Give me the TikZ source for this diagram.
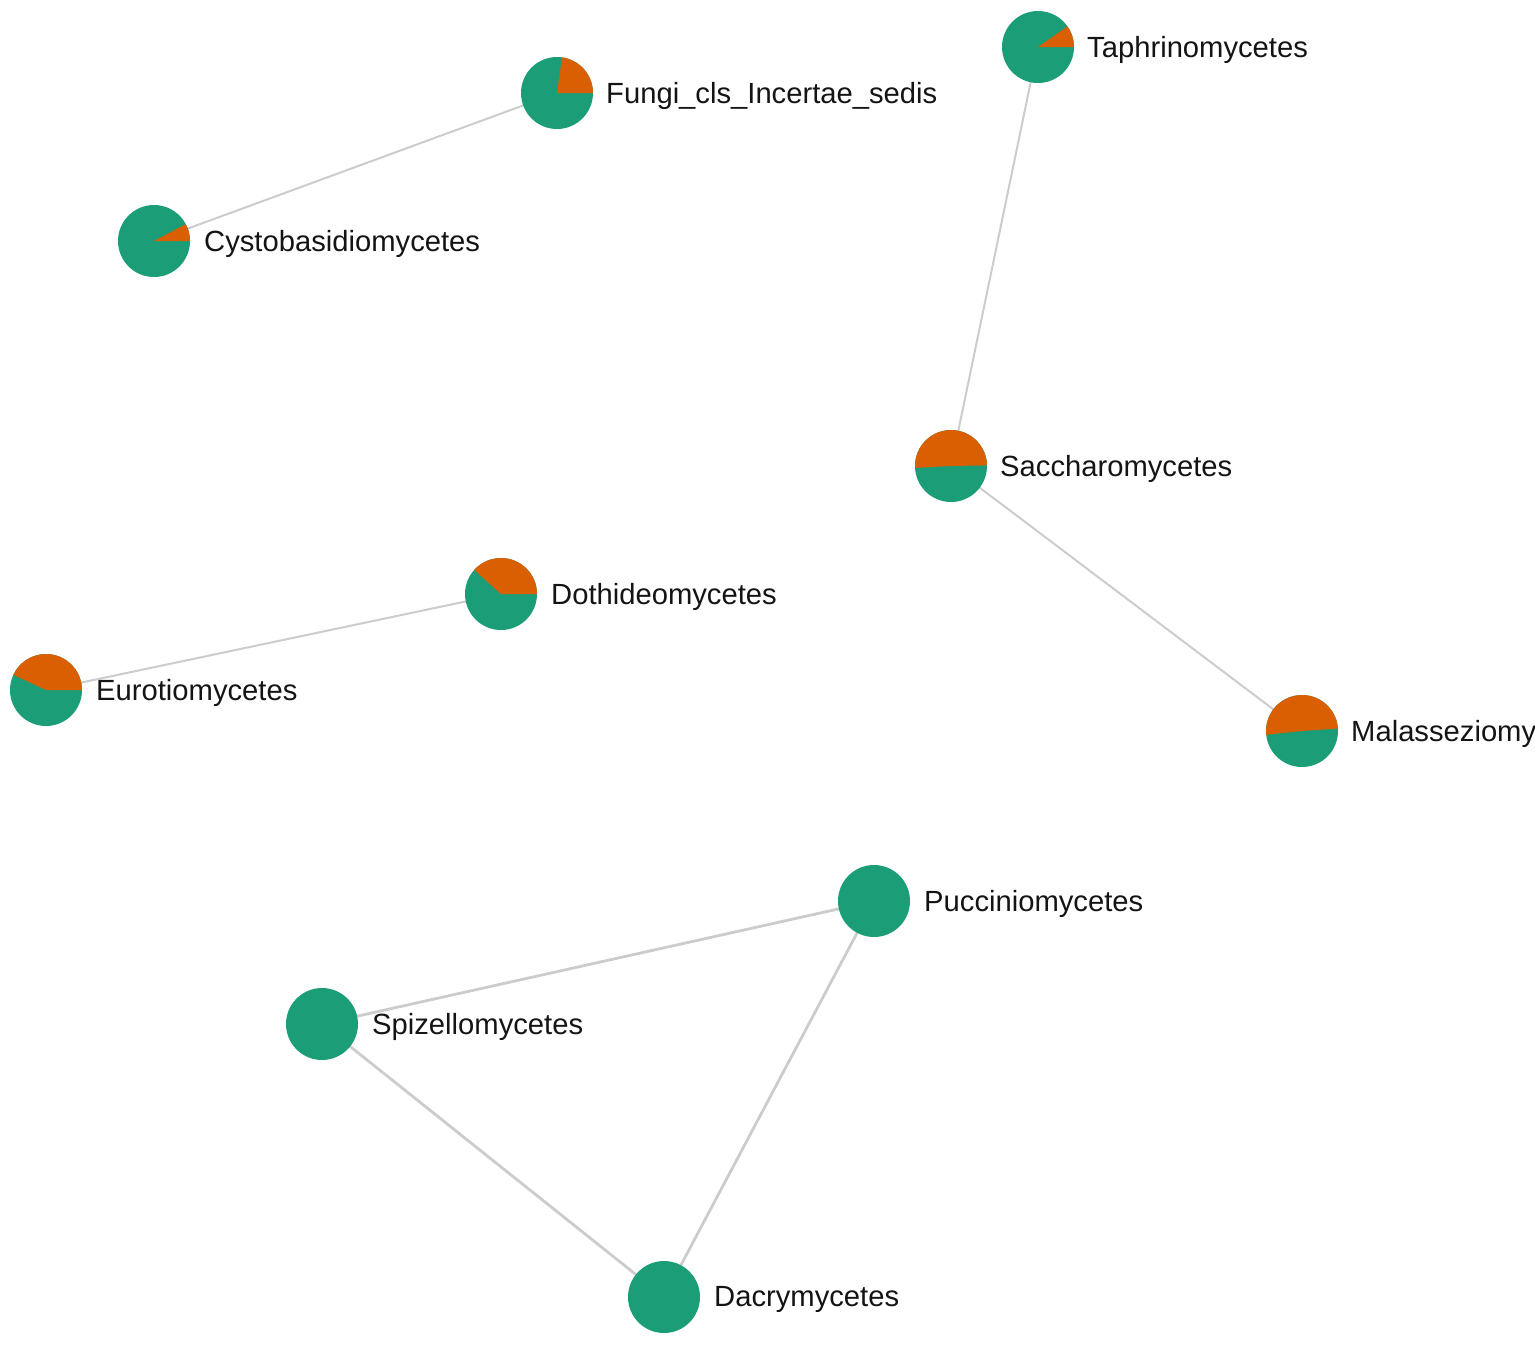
\documentclass[tikz,border=0pt]{standalone}
\usepackage{fontspec}
\setmainfont{Liberation Sans}
\definecolor{pgreen}{HTML}{1B9E77}
\definecolor{porange}{HTML}{D95F02}
\definecolor{edgegray}{HTML}{CCCCCC}
\definecolor{labtext}{HTML}{141414}
\newcommand\pieslice[3]{\fill[porange] (#1.center) -- ++(#2:36pt) arc[start angle=#2,end angle=#3,radius=36pt] -- cycle;}
\begin{document}
\begin{tikzpicture}[x=1pt,y=1pt,
  vert/.style={circle,fill=pgreen,minimum size=72pt,inner sep=0pt},
  lab/.style={anchor=west,text=labtext,inner sep=0pt,font=\fontsize{29.2}{34}\selectfont},
  link/.style={draw=edgegray,line width=2pt},
  linkb/.style={draw=edgegray,line width=2.8pt}]
\useasboundingbox (0,0) rectangle (1535,-1345);
\clip (0,0) rectangle (1535,-1345);
% node positions
\coordinate (pFungi) at (557,-93);
\coordinate (pTaph) at (1038,-47);
\coordinate (pCysto) at (154,-241);
\coordinate (pSacch) at (951,-466);
\coordinate (pDoth) at (501,-594);
\coordinate (pEuro) at (46,-690);
\coordinate (pMala) at (1302,-731);
\coordinate (pPucc) at (874,-901);
\coordinate (pSpiz) at (322,-1024);
\coordinate (pDacr) at (664,-1297);
% edges
\draw[link] (pFungi) -- (pCysto);
\draw[link] (pTaph) -- (pSacch);
\draw[link] (pSacch) -- (pMala);
\draw[link] (pDoth) -- (pEuro);
\draw[linkb] (pPucc) -- (pSpiz);
\draw[linkb] (pPucc) -- (pDacr);
\draw[linkb] (pSpiz) -- (pDacr);
% vertices
\node[vert] (fungi) at (pFungi) {};
\node[vert] (taph) at (pTaph) {};
\node[vert] (cysto) at (pCysto) {};
\node[vert] (sacch) at (pSacch) {};
\node[vert] (doth) at (pDoth) {};
\node[vert] (euro) at (pEuro) {};
\node[vert] (mala) at (pMala) {};
\node[vert] (pucc) at (pPucc) {};
\node[vert] (spiz) at (pSpiz) {};
\node[vert] (dacr) at (pDacr) {};
% pie slices
\pieslice{fungi}{0}{82}
\pieslice{taph}{0}{35}
\pieslice{cysto}{0}{28}
\pieslice{sacch}{1}{183}
\pieslice{doth}{0}{138}
\pieslice{euro}{0}{155}
\pieslice{mala}{4}{186}
% labels
\node[lab] (fungiL) at ([xshift=49pt,yshift=-2.5pt]fungi.center) {Fungi\_cls\_Incertae\_sedis};
\node[lab] (taphL) at ([xshift=49pt,yshift=-2.5pt]taph.center) {Taphrinomycetes};
\node[lab] (cystoL) at ([xshift=50pt,yshift=-2.5pt]cysto.center) {Cystobasidiomycetes};
\node[lab] (sacchL) at ([xshift=49pt,yshift=-2.5pt]sacch.center) {Saccharomycetes};
\node[lab] (dothL) at ([xshift=50pt,yshift=-2.5pt]doth.center) {Dothideomycetes};
\node[lab] (euroL) at ([xshift=50pt,yshift=-2.5pt]euro.center) {Eurotiomycetes};
\node[lab] (malaL) at ([xshift=49pt,yshift=-2.5pt]mala.center) {Malasseziomycetes};
\node[lab] (puccL) at ([xshift=50pt,yshift=-2.5pt]pucc.center) {Pucciniomycetes};
\node[lab] (spizL) at ([xshift=50pt,yshift=-2.5pt]spiz.center) {Spizellomycetes};
\node[lab] (dacrL) at ([xshift=50pt,yshift=-2.5pt]dacr.center) {Dacrymycetes};
\end{tikzpicture}
\end{document}
